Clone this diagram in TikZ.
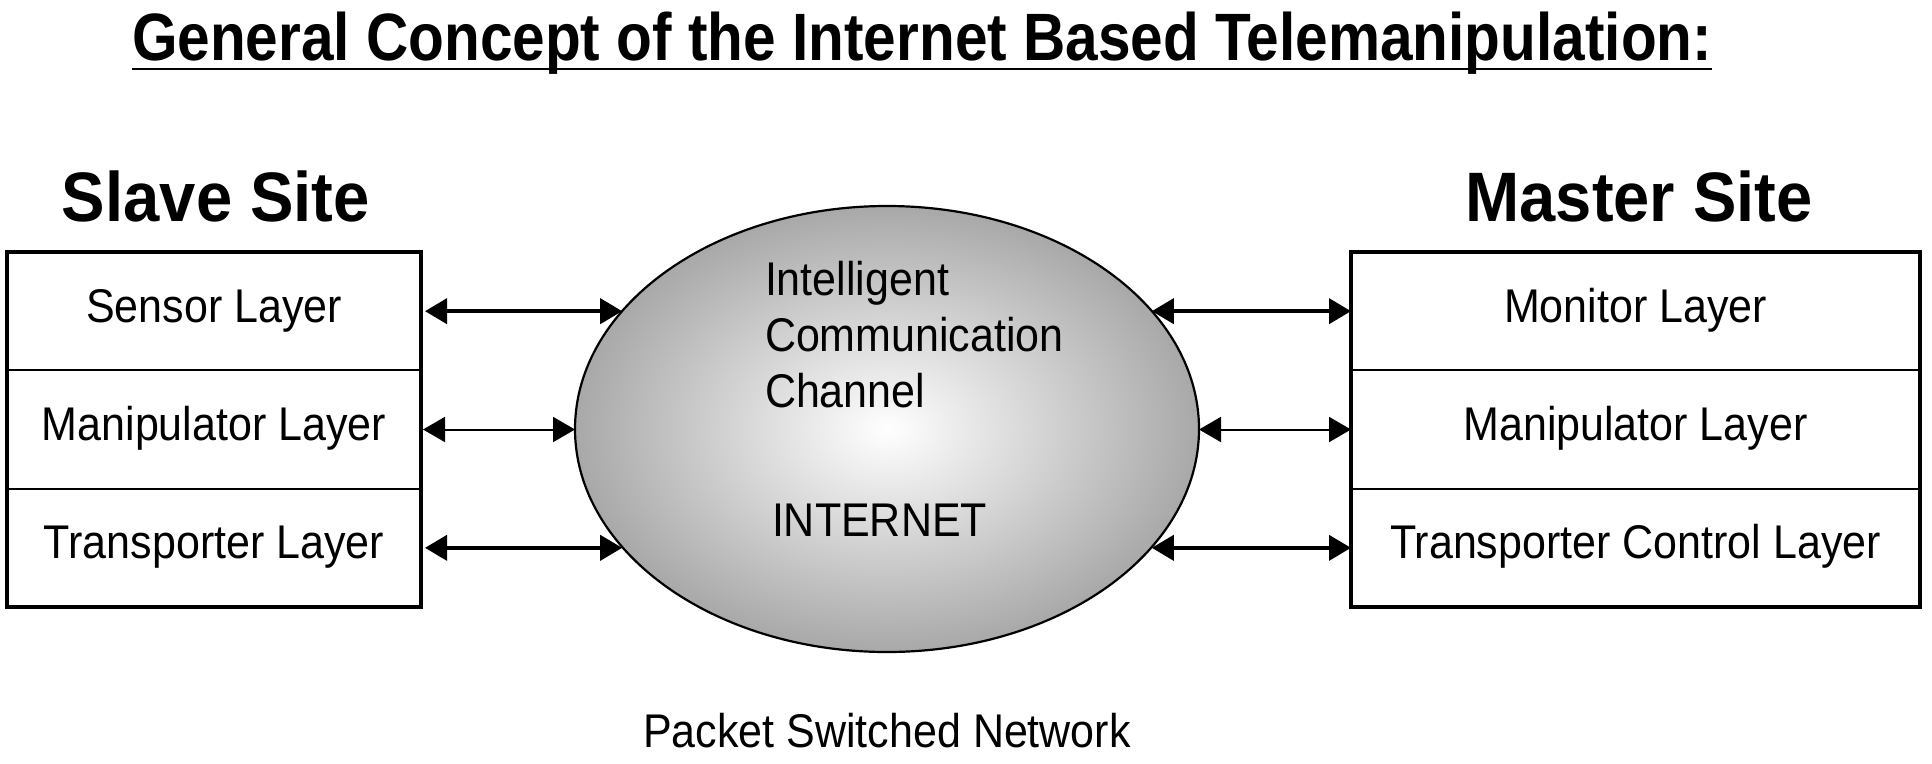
\documentclass[tikz,border=0pt]{standalone}
\usepackage{graphicx}
\usepackage{fontspec}
\setmainfont{Liberation Sans}
\usetikzlibrary{shapes.geometric,arrows.meta}
\newcommand{\vtx}[1]{\scalebox{1}[1.1]{#1}}
\begin{document}
\begin{tikzpicture}[x=1pt,y=-1pt,
  every node/.style={inner sep=0pt, outer sep=0pt},
  layer/.style={draw, line width=2pt, minimum height=118.33pt, font=\fontsize{43}{52}\selectfont, text height=31pt, text depth=9pt},
  slaveL/.style={layer, minimum width=414pt},
  masterL/.style={layer, minimum width=569pt},
  frame/.style={line width=3.2pt},
  site/.style={font=\fontsize{70}{84}\selectfont\bfseries, anchor=base},
  lbl/.style={font=\fontsize{43}{56}\selectfont},
  biarrow/.style={<->, >={Triangle[length=22pt,width=25pt]}},
  thickarrow/.style={biarrow, line width=4pt},
  thinarrow/.style={biarrow, line width=2pt},
]
\useasboundingbox (0,0) rectangle (1932,763);

% title
\node[anchor=base, font=\fontsize{67}{80}\selectfont\bfseries] (title) at (922,60)
  {\resizebox{1580pt}{\height}{General Concept of the Internet Based Telemanipulation:}};
\draw[line width=2.6pt] ([yshift=-9pt]title.base west) -- ([yshift=-9pt]title.base east);

% site headings
\node[site] (slave) at (216,221) {\resizebox{308pt}{\height}{Slave Site}};
\node[site] (master) at (1639,221) {\resizebox{347pt}{\height}{Master Site}};

% slave layers
\node[slaveL] (sens) at (214,311.17) {\vtx{Sensor Layer}};
\node[slaveL] (smani) at (214,429.5) {\vtx{Manipulator Layer}};
\node[slaveL] (strans) at (214,547.83) {\vtx{Transporter Layer}};
\draw[frame] (sens.north west) rectangle (strans.south east);

% master layers
\node[masterL] (mon) at (1635.5,311.17) {\vtx{Monitor Layer}};
\node[masterL] (mmani) at (1635.5,429.5) {\vtx{Manipulator Layer}};
\node[masterL] (mtrans) at (1635.5,547.83) {\vtx{Transporter Control Layer}};
\draw[frame] (mon.north west) rectangle (mtrans.south east);

% internet ellipse
\node[ellipse, draw, line width=2.2pt, minimum width=624pt, minimum height=446pt,
      inner color=white, outer color=black!34] (net) at (887,429) {};
\node[lbl, anchor=north west, align=left] (icc) at (765,261)
  {\vtx{Intelligent}\\\vtx{Communication}\\\vtx{Channel}};
\node[lbl, anchor=base west] (inet) at (772,536) {\vtx{INTERNET}};
\node[lbl, anchor=base] (psn) at (887,747) {\vtx{Packet Switched Network}};

% connectors
\draw[thickarrow] ([xshift=4pt]sens.east) -- (sens.east -| net.156);
\draw[thinarrow] ([xshift=2pt]smani.east) -- (smani.east -| net.west);
\draw[thickarrow] ([xshift=4pt]strans.east) -- (strans.east -| net.204);
\draw[thickarrow] (mon.west -| net.24) -- (mon.west);
\draw[thinarrow] (mmani.west -| net.east) -- (mmani.west);
\draw[thickarrow] (mtrans.west -| net.336) -- (mtrans.west);
\end{tikzpicture}
\end{document}
